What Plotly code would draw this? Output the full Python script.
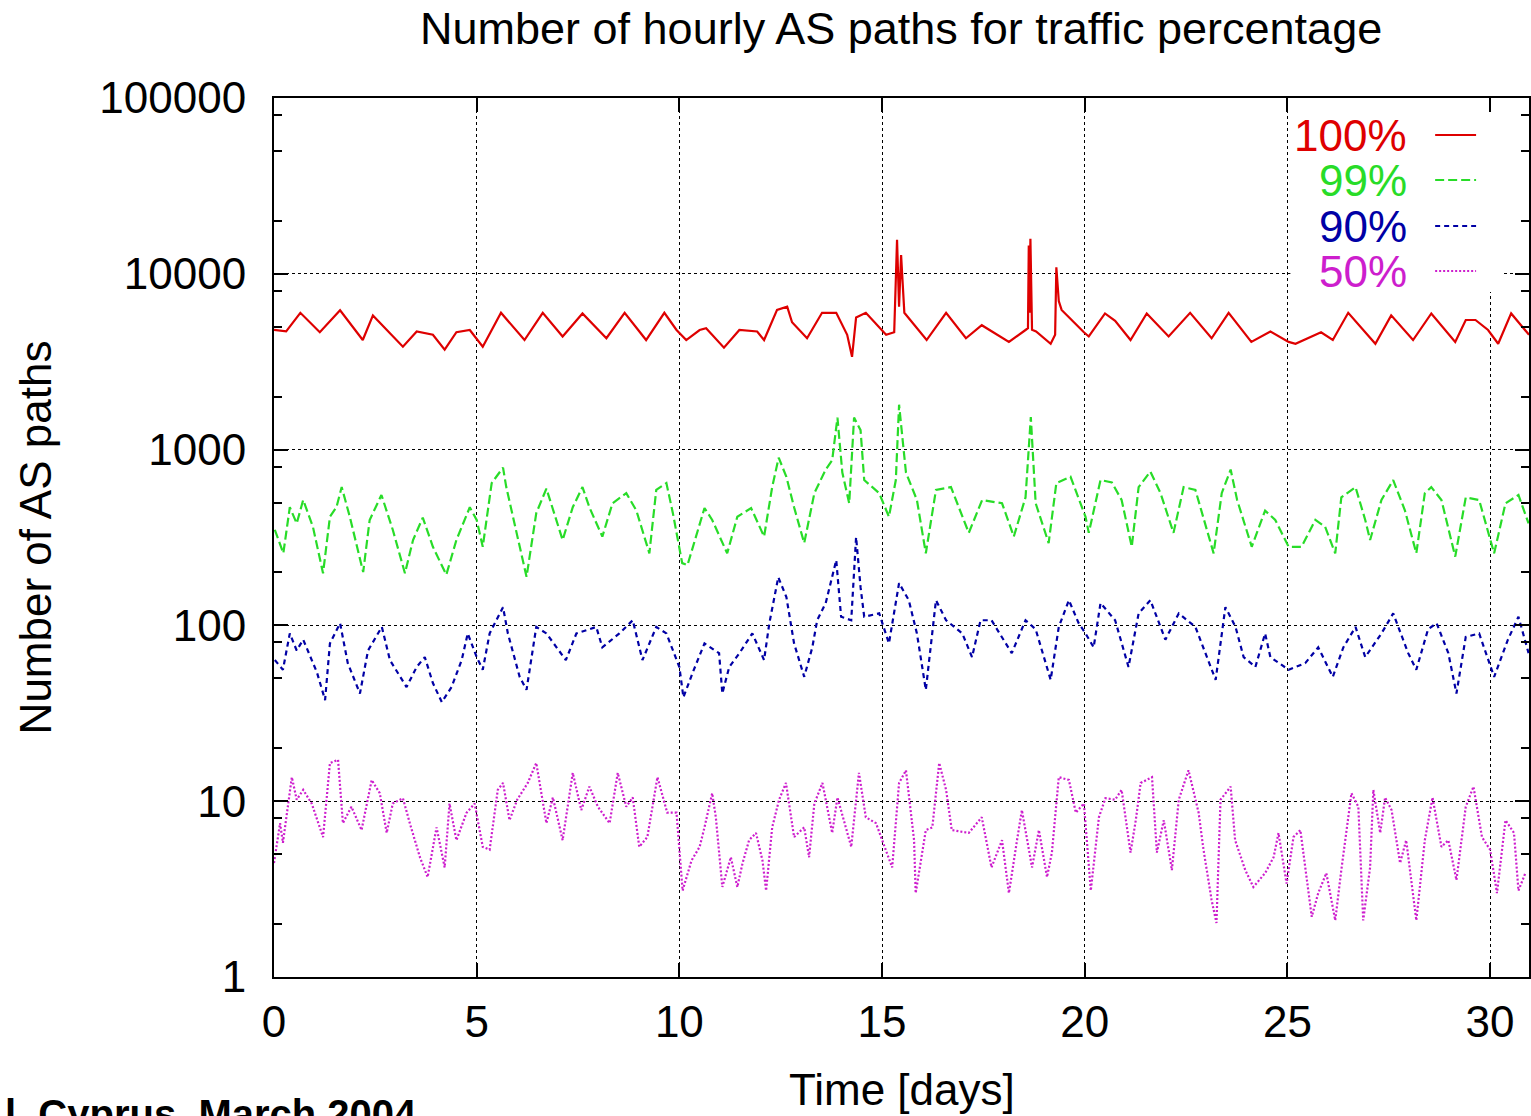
import plotly.graph_objects as go

# ---------------- data ----------------
days_100 = [0, 0.3, 0.65, 1.13, 1.63, 2.19, 2.44, 3.18, 3.52, 3.92, 4.21, 4.5, 4.83, 5.15, 5.6, 6.18,
            6.63, 7.12, 7.61, 8.2, 8.65, 9.18, 9.63, 9.93, 10.17, 10.5, 10.66, 11.1, 11.48, 11.92,
            12.09, 12.41, 12.66, 12.78, 13.15, 13.52, 13.87, 14.14, 14.26, 14.36, 14.6, 15.1, 15.3,
            15.37, 15.42, 15.47, 15.55, 16.1, 16.58, 17.07, 17.46, 18.13, 18.54, 18.6, 18.62, 18.64,
            18.66, 18.7, 18.8, 19.16, 19.27, 19.3, 19.36, 19.43, 19.98, 20.1, 20.5, 20.75, 21.13,
            21.53, 22.07, 22.6, 23.13, 23.55, 24.11, 24.58, 25.03, 25.2, 25.83, 26.12, 26.5, 27.17,
            27.56, 28.1, 28.55, 29.14, 29.4, 29.64, 29.95, 30.2, 30.52, 30.96]
paths_100 = [4800, 4700, 6000, 4650, 6200, 4200, 5800, 3850, 4700, 4500, 3700, 4650, 4790, 3850, 6000, 4200,
             6000, 4400, 5950, 4300, 6000, 4200, 6000, 4790, 4200, 4790, 4900, 3800, 4790, 4700,
             4200, 6230, 6500, 5300, 4300, 6000, 6000, 4500, 3370, 5650, 6000, 4500, 4650,
             15600, 6500, 12800, 6000, 4200, 6000, 4300, 5100, 4100, 4790, 4900, 14500, 6000,
             15800, 4800, 4700, 4000, 4500, 10900, 7000, 6230, 4650, 4400, 5950, 5400, 4200,
             5950, 4400, 6000, 4300, 6000, 4100, 4700, 4100, 4000, 4650, 4200, 6000, 4000,
             5800, 4200, 5950, 4100, 5460, 5460, 4790, 4000, 5950, 4500]

days_99 = [0.02, 0.23, 0.39, 0.56, 0.72, 0.96, 1.21, 1.38, 1.54, 1.67, 1.87, 2.2, 2.36, 2.65, 2.93, 3.23,
           3.43, 3.67, 3.92, 4.25, 4.5, 4.83, 5.0, 5.15, 5.37, 5.65, 5.73, 5.98, 6.23, 6.47, 6.72, 7.12,
           7.37, 7.61, 7.78, 8.1, 8.35, 8.69, 8.94, 9.26, 9.43, 9.68, 9.84, 10.07, 10.2, 10.62, 10.81,
           11.18, 11.43, 11.77, 12.09, 12.29, 12.45, 12.64, 12.83, 13.08, 13.33, 13.61, 13.77, 13.9,
           14.02, 14.19, 14.31, 14.47, 14.56, 14.93, 15.17, 15.34, 15.42, 15.59, 15.86, 16.08, 16.33,
           16.7, 17.14, 17.47, 17.96, 18.25, 18.54, 18.67, 18.79, 19.11, 19.3, 19.65, 20.02, 20.1,
           20.39, 20.67, 20.91, 21.16, 21.33, 21.62, 21.87, 22.19, 22.44, 22.73, 23.18, 23.38, 23.6,
           23.76, 24.12, 24.45, 24.7, 25.03, 25.35, 25.69, 25.93, 26.18, 26.33, 26.68, 26.92, 27.04,
           27.32, 27.61, 27.9, 28.18, 28.39, 28.55, 28.8, 29.14, 29.4, 29.73, 30.1, 30.38, 30.7, 30.95]
paths_99 = [350, 257, 470, 380, 517, 364, 198, 415, 470, 612, 415, 201, 398, 552, 350, 198,
            306, 410, 280, 194, 306, 470, 398, 280, 645, 790, 612, 336, 189, 435, 600, 306,
            470, 612, 470, 320, 495, 565, 450, 257, 590, 645, 435, 226, 220, 465, 398,
            257, 415, 465, 320, 612, 900, 700, 470, 294, 565, 770, 870, 1520,
            740, 495, 1520, 1290, 671, 565, 415, 671, 1800, 740, 517, 257, 590,
            612, 336, 517, 495, 320, 535, 1530, 495, 294, 645, 700, 415, 336,
            671, 650, 517, 280, 612, 750, 565, 336, 612, 590, 257, 565, 770,
            517, 280, 450, 398, 280, 280, 398, 364, 257, 535, 612, 398, 306,
            517, 671, 450, 257, 565, 612, 517, 246, 535, 517, 257, 495, 552, 380]

days_90 = [0.02, 0.22, 0.39, 0.56, 0.72, 1.06, 1.26, 1.38, 1.63, 1.82, 2.12, 2.32, 2.66, 2.86, 3.27, 3.52,
           3.72, 3.92, 4.14, 4.38, 4.63, 4.78, 5.0, 5.15, 5.32, 5.65, 5.77, 6.06, 6.23, 6.47, 6.72, 7.2,
           7.46, 7.95, 8.1, 8.52, 8.85, 9.09, 9.43, 9.68, 10.0, 10.1, 10.33, 10.62, 10.98, 11.06, 11.23,
           11.48, 11.8, 12.09, 12.22, 12.44, 12.64, 12.83, 13.08, 13.28, 13.4, 13.61, 13.87, 13.99,
           14.24, 14.36, 14.47, 14.56, 14.93, 15.17, 15.42, 15.66, 15.86, 16.08, 16.33, 16.58, 16.98,
           17.22, 17.43, 17.7, 18.2, 18.54, 18.79, 19.16, 19.36, 19.61, 19.85, 20.02, 20.22, 20.39,
           20.75, 21.08, 21.33, 21.62, 21.99, 22.32, 22.73, 23.23, 23.47, 23.72, 23.92, 24.21, 24.45,
           24.58, 25.03, 25.44, 25.76, 26.12, 26.38, 26.68, 26.92, 27.32, 27.61, 27.98, 28.18, 28.47,
           28.68, 28.97, 29.17, 29.4, 29.73, 30.1, 30.44, 30.7, 30.95]
paths_90 = [63.5, 56, 90, 72, 83, 54, 37.6, 79, 103, 61, 41, 72, 98, 63.5, 44.6, 58,
            66, 47, 36.6, 44.6, 63.5, 90, 66, 56, 90, 127, 90, 51, 43, 98, 90, 63.5,
            90, 98, 75, 90, 107, 63.5, 98, 90, 58, 39, 54, 79, 69.5, 41, 58,
            69.5, 90, 63.5, 103, 188, 145, 79, 51, 75, 107, 134, 235, 112,
            107, 318, 165, 112, 117, 79, 174, 139, 90, 43, 139, 107, 90,
            66, 107, 107, 69.5, 107, 95, 49, 98, 139, 103, 90, 75, 134,
            107, 58, 117, 139, 83, 117, 98, 49, 127, 98, 66, 58, 90,
            66, 56, 61, 75, 51, 75, 98, 66, 90, 117, 69.5, 56, 95,
            103, 69.5, 41, 86, 90, 51, 83, 112, 69.5]

days_50 = [0.0, 0.15, 0.22, 0.44, 0.56, 0.72, 0.93, 1.21, 1.38, 1.58, 1.7, 1.91, 2.16, 2.41, 2.61, 2.78,
           2.93, 3.18, 3.35, 3.6, 3.79, 4.01, 4.21, 4.33, 4.5, 4.75, 4.95, 5.15, 5.32, 5.52, 5.65, 5.81,
           6.0, 6.26, 6.47, 6.72, 6.88, 7.12, 7.37, 7.58, 7.78, 7.99, 8.28, 8.48, 8.69, 8.85, 9.01, 9.21,
           9.46, 9.7, 9.93, 10.08, 10.3, 10.5, 10.62, 10.81, 10.9, 11.06, 11.27, 11.43, 11.56, 11.72,
           11.89, 12.05, 12.14, 12.29, 12.46, 12.63, 12.83, 13.08, 13.2, 13.33, 13.53, 13.77, 13.9,
           14.24, 14.43, 14.6, 14.85, 15.25, 15.42, 15.59, 15.79, 15.83, 16.08, 16.24, 16.41, 16.58,
           16.72, 17.14, 17.46, 17.7, 17.96, 18.13, 18.33, 18.45, 18.7, 18.87, 19.07, 19.19, 19.36,
           19.61, 19.78, 19.98, 20.15, 20.35, 20.51, 20.75, 20.91, 21.13, 21.26, 21.38, 21.66, 21.78,
           21.95, 22.15, 22.32, 22.56, 22.81, 22.93, 23.13, 23.25, 23.35, 23.6, 23.71, 23.96, 24.16,
           24.45, 24.66, 24.78, 24.98, 25.15, 25.32, 25.52, 25.6, 25.76, 25.96, 26.18, 26.33, 26.58,
           26.75, 26.87, 27.04, 27.12, 27.29, 27.41, 27.57, 27.78, 27.93, 28.18, 28.39, 28.58, 28.8,
           28.97, 29.17, 29.4, 29.59, 29.8, 30.0, 30.17, 30.38, 30.59, 30.7, 30.87]
paths_50 = [4.45, 7.5, 5.8, 13.7, 10.2, 11.6, 9.7, 6.25, 16.5, 17.2, 7.5, 9.3, 6.85, 13.2, 11.1, 6.6,
            9.7, 10.4, 7.5, 4.8, 3.7, 7.1, 4.2, 9.7, 6.0, 8.6, 9.7, 5.5, 5.3, 11.6, 12.7, 7.8,
            10.2, 12.7, 16.5, 7.5, 10.5, 6.0, 14.5, 8.9, 12.1, 9.3, 7.5, 14.5, 9.3, 10.5, 5.5, 6.25,
            13.7, 8.6, 8.6, 3.1, 4.6, 5.5, 7.1, 11.1, 8.1, 3.25, 4.8, 3.25, 4.45, 6.0,
            6.6, 4.6, 3.1, 7.1, 10.2, 12.7, 6.25, 7.1, 4.8, 9.7, 12.7, 6.6, 10.5,
            5.5, 14.5, 8.1, 7.5, 4.2, 12.7, 15.0, 6.0, 3.0, 6.85, 7.1, 16.5, 11.6,
            6.85, 6.6, 8.1, 4.2, 6.0, 3.0, 6.0, 8.9, 4.2, 6.85, 3.7, 5.1, 13.7,
            13.2, 8.6, 9.7, 3.1, 8.1, 10.4, 10.2, 11.6, 5.1, 7.8, 12.7, 13.7, 5.1,
            7.8, 4.06, 10.2, 15.0, 8.6, 5.3, 2.74, 2.03, 10.2, 12.1, 6.0, 4.06, 3.25,
            3.9, 4.8, 6.6, 3.4, 6.25, 6.85, 3.0, 2.2, 3.0, 3.9, 2.1, 4.06, 11.1,
            9.3, 2.1, 4.2, 11.6, 6.6, 10.5, 8.9, 4.45, 6.0, 2.1, 6.0, 10.5, 5.5,
            6.0, 3.56, 9.3, 12.1, 6.25, 5.3, 3.0, 7.8, 6.6, 3.1, 3.9]

series_names = ["100%", "99%", "90%", "50%"]
x_ticks = [0, 5, 10, 15, 20, 25, 30]
y_ticks = [1, 10, 100, 1000, 10000, 100000]
y_ticktext = ["1", "10", "100", "1000", "10000", "100000"]
y_minor = [m * d for d in [1, 10, 100, 1000, 10000] for m in (2, 5, 8)]

# ---------------- styling ----------------
colors = ["rgb(222,0,0)", "rgb(40,220,40)", "rgb(0,0,165)", "rgb(205,30,205)"]
dashes = ["solid", "9px,4px", "5px,4px", "2px,2px"]
FONT = "Liberation Sans, Arial, Helvetica, sans-serif"

W, H = 1531, 1116
L, R, T, B = 274, 0, 98, 139
PW, PH = W - L - R, H - T - B


def px(xp):
    return (xp - L) / PW


def py(yp):
    return (H - B - yp) / PH


fig = go.Figure()
for xs, ys, c, d, n in zip([days_100, days_99, days_90, days_50],
                           [paths_100, paths_99, paths_90, paths_50],
                           colors, dashes, series_names):
    fig.add_trace(go.Scatter(x=xs, y=ys, mode="lines", name=n, showlegend=False,
                             line=dict(color=c, width=2.2, dash=d)))

axis_common = dict(
    showline=True, linecolor="black", linewidth=2, mirror="ticks",
    ticks="inside", ticklen=14, tickwidth=1.5, tickcolor="black",
    showgrid=True, gridcolor="black", gridwidth=1, griddash="dot",
    zeroline=False, tickfont=dict(size=44, family=FONT, color="black"),
)

fig.update_layout(
    width=W, height=H,
    margin=dict(l=L, r=R, t=T, b=B),
    paper_bgcolor="white", plot_bgcolor="white",
    font=dict(family=FONT, size=44, color="black"),
    showlegend=False,
    xaxis=dict(range=[0, 30.96], tickmode="array", tickvals=x_ticks,
               ticklabelstandoff=5, **axis_common),
    yaxis=dict(type="log", range=[0, 5], tickmode="array", tickvals=y_ticks,
               ticktext=y_ticktext, ticklabelstandoff=17,
               minor=dict(tickmode="array", tickvals=y_minor, ticks="inside",
                          ticklen=8, tickwidth=1.5, tickcolor="black", showgrid=False),
               **axis_common),
)

annotations = [
    dict(text="Number of hourly AS paths for traffic percentage", x=px(902), y=py(28),
         xanchor="center", yanchor="middle", font=dict(size=45)),
    dict(text="Time [days]", x=px(903), y=py(1089), xanchor="center", yanchor="middle",
         font=dict(size=44)),
    dict(text="Number of AS paths", x=px(35), y=py(537), xanchor="center", yanchor="middle",
         textangle=-90, font=dict(size=44)),
    dict(text="<b>l, Cyprus, March 2004</b>", x=px(3), y=py(1114), xanchor="left",
         yanchor="middle", font=dict(size=40, family="Liberation Sans, Arial, sans-serif")),
]
legend_rows = [135, 180, 226, 271]
for n, c, yr in zip(series_names, colors, legend_rows):
    annotations.append(dict(text=n, x=px(1411), y=py(yr), xanchor="right", yanchor="middle",
                            font=dict(size=44, color=c)))
for a in annotations:
    a.update(xref="paper", yref="paper", showarrow=False)

shapes = [dict(type="rect", xref="paper", yref="paper", x0=px(1292), x1=px(1505),
               y0=py(292), y1=py(112), fillcolor="white", line=dict(width=0), layer="above")]
for c, d, yr in zip(colors, dashes, legend_rows):
    shapes.append(dict(type="line", xref="paper", yref="paper", x0=px(1437), x1=px(1478),
                       y0=py(yr), y1=py(yr), line=dict(color=c, width=2, dash=d), layer="above"))

fig.update_layout(annotations=annotations, shapes=shapes)

fig.write_html("out.html")
